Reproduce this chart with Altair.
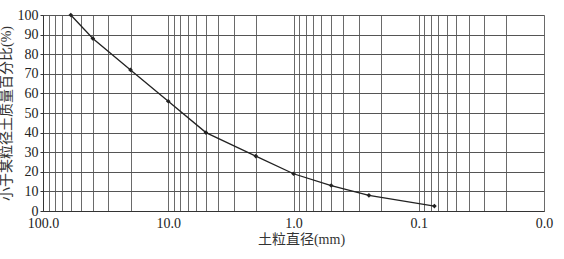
import altair as alt
import pandas as pd

diam = [60, 40, 20, 10, 5, 2, 1, 0.5, 0.25, 0.075]
pct = [100, 88, 72, 56, 40, 28, 19, 13, 8, 2.5]

decades = [100, 10, 1, 0.1, 0.01]
decade_labels = ["100.0", "10.0", "1.0", "0.1", "0.0"]
grid_vals = []
for base in [10, 1, 0.1, 0.01]:
    for m in range(1, 10):
        grid_vals.append(round(base * m, 6))
grid_vals.append(100)

y_ticks = list(range(0, 101, 10))

df = pd.DataFrame({"d": diam, "p": pct})

label_expr = ""
for v, l in zip(decades, decade_labels):
    label_expr += f"datum.value=={v}?'{l}':"
label_expr += "''"

FONT = "'Liberation Serif', 'Noto Sans CJK SC', serif"

x = alt.X(
    "d:Q",
    scale=alt.Scale(type="log", domain=[0.01, 100], reverse=True, nice=False),
    axis=alt.Axis(
        values=grid_vals,
        labelExpr=label_expr,
        labelOverlap=False,
        labelFlush=False,
        ticks=False,
        grid=True,
        gridColor="#6a6a6a",
        gridWidth=1,
        gridOpacity=1,
        domainColor="#333",
        labelFont=FONT,
        labelFontSize=14,
        labelColor="#222",
        labelPadding=5,
        title="土粒直径(mm)",
        titleFont=FONT,
        titleFontSize=14,
        titleFontWeight="normal",
        titleColor="#333",
        titlePadding=2,
        titleX=258,
    ),
)
y = alt.Y(
    "p:Q",
    scale=alt.Scale(domain=[0, 100], nice=False),
    axis=alt.Axis(
        values=y_ticks,
        grid=True,
        gridColor="#555",
        gridWidth=1,
        gridOpacity=1,
        ticks=True,
        tickSize=3,
        tickColor="#333",
        domainColor="#333",
        labelFont=FONT,
        labelFontSize=14,
        labelColor="#222",
        labelPadding=2,
        title="小于某粒径土质量百分比(%)",
        titleFont=FONT,
        titleFontSize=14,
        titleFontWeight="normal",
        titleColor="#333",
        titlePadding=4,
    ),
)

base = alt.Chart(df).encode(x=x, y=y)
line = base.mark_line(color="#222", strokeWidth=1.3)
pts = base.mark_point(filled=True, color="#222", size=22, shape="diamond", opacity=1)

chart = (line + pts).properties(
    width=501,
    height=196,
    autosize=alt.AutoSizeParams(type="none"),
    padding={"left": 43, "top": 15, "right": 20, "bottom": 48},
).configure_view(stroke="#cfcfcf", strokeWidth=1).configure(background="white")

chart.save("out.html", embed_options={"renderer": "svg", "actions": False})
